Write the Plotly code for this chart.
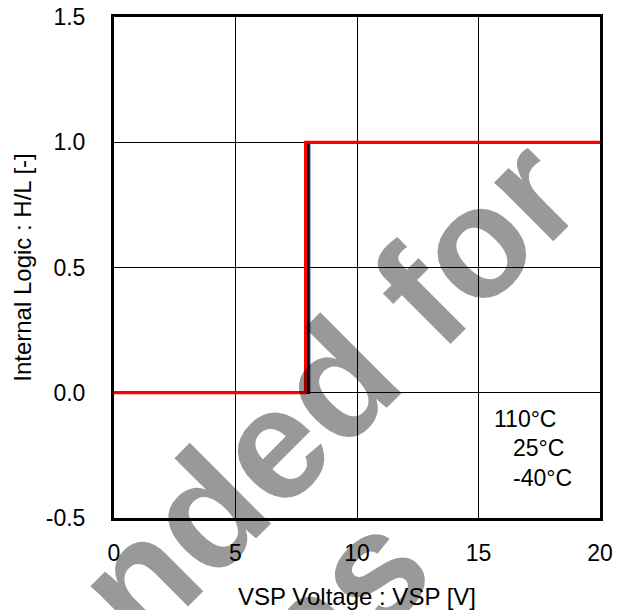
import plotly.graph_objects as go

# Data
temps = ["110°C", "25°C", "-40°C"]
thresholds = [8.03, 7.97, 7.88]          # VSP switching voltage [V] for each temp
line_colors = ["#1f1fa0", "#000000", "#ff0000"]
line_widths = [2.5, 2.5, 3]
vsp_min, vsp_max = 0, 20
logic_low, logic_high = 0, 1
x_ticks = [0, 5, 10, 15, 20]
y_ticks = [-0.5, 0.0, 0.5, 1.0, 1.5]
y_tick_text = ["-0.5", "0.0", "0.5", "1.0", "1.5"]

FONT = "Liberation Sans, Arial, sans-serif"

fig = go.Figure()
for name, th, col, w in zip(temps, thresholds, line_colors, line_widths):
    fig.add_trace(go.Scatter(
        x=[vsp_min, th, th, vsp_max],
        y=[logic_low, logic_low, logic_high, logic_high],
        mode="lines", name=name,
        line=dict(color=col, width=w),
        showlegend=False,
    ))

# legend-like text
leg_pos = [(0.778, 0.198), (0.817, 0.140), (0.817, 0.080)]
for t, (px, py) in zip(temps, leg_pos):
    fig.add_annotation(x=px, y=py, xref="paper", yref="paper", text=t,
                       showarrow=False, xanchor="left", yanchor="middle",
                       font=dict(family=FONT, size=23, color="black"))

# watermark
wm_lines = ["Not Recommended for", "New Designs"]
wm_pos = [(-0.336, -0.495), (-0.1245, -0.7355)]
for t, (px, py) in zip(wm_lines, wm_pos):
    fig.add_annotation(x=px, y=py, xref="paper", yref="paper", text=t,
                       showarrow=False, xanchor="center", yanchor="middle",
                       textangle=-45,
                       font=dict(family=FONT, size=158, color="rgba(0,0,0,0.4)",
                                 weight="bold"))

axis_common = dict(
    showgrid=True, gridcolor="black", gridwidth=1,
    showline=True, linecolor="black", linewidth=3, mirror=True,
    zeroline=False, ticks="", automargin=False,
    ticklabeloverflow="allow",
    tickfont=dict(family=FONT, size=23, color="black"),
)
fig.update_xaxes(range=[vsp_min, vsp_max], tickvals=x_ticks,
                 ticklabelstandoff=12,
                 title=dict(text="VSP Voltage : VSP [V]", standoff=28,
                            font=dict(family=FONT, size=24, color="black")),
                 **axis_common)
fig.update_yaxes(range=[-0.5, 1.5], tickvals=y_ticks, ticktext=y_tick_text,
                 ticklabelstandoff=21,
                 title=dict(text="Internal Logic : H/L [-]", standoff=8,
                            font=dict(family=FONT, size=24, color="black")),
                 **axis_common)

# the page body adds an 8px margin, so the figure is sized to fit the window
fig.update_layout(
    width=614, height=602,
    margin=dict(l=106, r=22, t=9, b=92),
    plot_bgcolor="white", paper_bgcolor="white",
    font=dict(family=FONT, color="black"),
)

fig.write_html("out.html")
